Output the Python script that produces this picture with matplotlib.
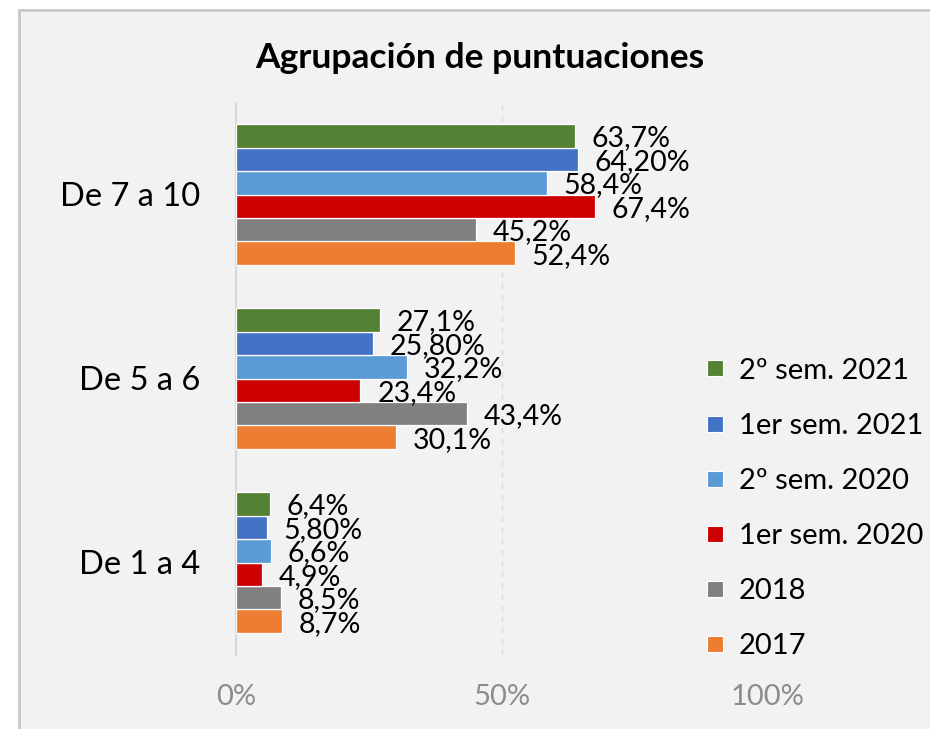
import matplotlib
matplotlib.use("Agg")
import matplotlib.pyplot as plt
from matplotlib.patches import Rectangle
from matplotlib.lines import Line2D
import numpy as np

plt.rcParams['font.family'] = ['Lato', 'DejaVu Sans']

categories = ["De 1 a 4", "De 5 a 6", "De 7 a 10"]
series_names = ["2017", "2018", "1er sem. 2020", "2º sem. 2020", "1er sem. 2021", "2º sem. 2021"]
series_colors = ["#ED7D31", "#808080", "#CC0000", "#5B9BD5", "#4472C4", "#548235"]
values = {
    "2017":          [0.087, 0.301, 0.524],
    "2018":          [0.085, 0.434, 0.452],
    "1er sem. 2020": [0.049, 0.234, 0.674],
    "2º sem. 2020":  [0.066, 0.322, 0.584],
    "1er sem. 2021": [0.058, 0.258, 0.642],
    "2º sem. 2021":  [0.064, 0.271, 0.637],
}
labels = {
    "2017":          ["8,7%", "30,1%", "52,4%"],
    "2018":          ["8,5%", "43,4%", "45,2%"],
    "1er sem. 2020": ["4,9%", "23,4%", "67,4%"],
    "2º sem. 2020":  ["6,6%", "32,2%", "58,4%"],
    "1er sem. 2021": ["5,80%", "25,80%", "64,20%"],
    "2º sem. 2021":  ["6,4%", "27,1%", "63,7%"],
}
x_ticks = [0, 0.5, 1.0]
x_ticklabels = ["0%", "50%", "100%"]

W, H = 930, 729
fig = plt.figure(figsize=(W / 100, H / 100), dpi=100, facecolor="white")

# chart area background with border
bg = Rectangle((19 / W, -0.05), 1.2, (729 - 10) / H + 0.05, transform=fig.transFigure,
               facecolor="#F2F2F2", edgecolor="#C8C8C8", linewidth=2, zorder=-10)
fig.patches.append(bg)

ax_left, ax_right = 236 / W, 768 / W
ax_top, ax_bottom = 1 - 102.5 / H, 1 - 654.5 / H
ax = fig.add_axes([ax_left, ax_bottom, ax_right - ax_left, ax_top - ax_bottom])
ax.set_facecolor("none")

n = len(series_names)
bar_h = 0.1277
y = np.arange(len(categories))
for i, name in enumerate(series_names):
    offs = (i - (n - 1) / 2) * bar_h
    bars = ax.barh(y + offs, values[name], height=bar_h, color=series_colors[i],
                   edgecolor="white", linewidth=0.9, zorder=3)
    for b, lab in zip(bars, labels[name]):
        ax.annotate(lab, (b.get_width(), b.get_y() + b.get_height() / 2),
                    xytext=(12, -2), textcoords="offset points",
                    ha="left", va="center", fontsize=20.5, color="black", zorder=4)

ax.set_xlim(0, 1)
ax.set_ylim(-0.5, 2.5)
ax.set_yticks(y)
ax.set_yticklabels(categories, fontsize=23.5)
ax.set_xticks(x_ticks)
ax.set_xticklabels(x_ticklabels, fontsize=21, color="#8C8C8C")
ax.tick_params(axis="x", length=0, pad=21)
ax.tick_params(axis="y", length=0, pad=26)
for s in ["top", "right", "bottom"]:
    ax.spines[s].set_visible(False)
ax.spines["left"].set_color("#D9D9D9")
ax.spines["left"].set_linewidth(1.5)
ax.spines["left"].set_zorder(2)
ax.xaxis.grid(True, linestyle=(0, (4, 4)), color="#D9D9D9", linewidth=1, zorder=1)
ax.set_axisbelow(True)

fig.text(480 / W, 1 - 58 / H, "Agrupación de puntuaciones", ha="center", va="center",
         fontsize=25.5, fontweight="bold")

handles = [Line2D([], [], marker="s", linestyle="", color=c, markersize=11,
                  markeredgecolor="white", markeredgewidth=0.8)
           for c in series_colors]
leg = fig.legend(handles[::-1], series_names[::-1], loc="center left",
                 bbox_to_anchor=(704 / W, 1 - 508.5 / H), frameon=False,
                 fontsize=21, handlelength=0.75, handletextpad=0.45,
                 labelspacing=1.0, borderpad=0, borderaxespad=0)

fig.savefig("out.png", dpi=100, facecolor="white")
